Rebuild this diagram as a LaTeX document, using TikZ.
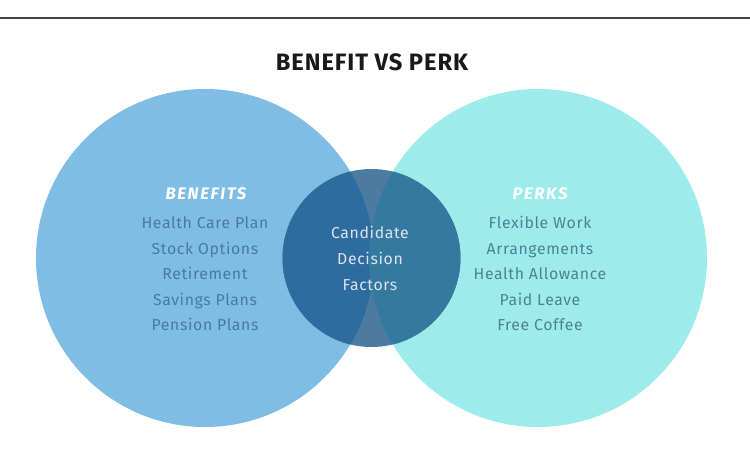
\documentclass[tikz,border=0pt]{standalone}
\usepackage{fontspec}
\setmainfont{Fira Sans}
\newfontfamily\itemfont[LetterSpace=4]{Fira Sans}
\newfontfamily\headfont[LetterSpace=10]{Fira Sans}
\newfontfamily\titlefont[LetterSpace=4]{Fira Sans}
\definecolor{benefitfill}{HTML}{80BDE4}
\definecolor{perkfill}{HTML}{9DECEB}
\definecolor{coreleft}{HTML}{2E6B9E}
\definecolor{coreright}{HTML}{347A9F}
\definecolor{corelens}{HTML}{4C7BA2}
\definecolor{benefittext}{HTML}{4A79A8}
\definecolor{perktext}{HTML}{4D8296}
\definecolor{coretext}{HTML}{DCE3F2}
\tikzset{
  itemtext/.style={font=\itemfont\fontsize{9}{10}\selectfont, inner sep=0pt, anchor=base},
  headtext/.style={font=\headfont\bfseries\itshape\fontsize{9.5}{10}\selectfont, text=white, inner sep=0pt, anchor=base},
}
\begin{document}
\begin{tikzpicture}[x=0.02cm, y=-0.02cm]
\useasboundingbox (0,0) rectangle (750,454);
\draw[line width=1pt, black!75] (0,18) -- (750,18);
\node[font=\titlefont\bfseries\fontsize{13.5}{14}\selectfont, text=black!90, inner sep=0pt, anchor=base] (title) at (372,70) {BENEFIT VS PERK};
% circles
\fill[benefitfill] (205,258) circle (169);
\fill[perkfill] (538,258) circle (169);
\fill[corelens] (371.5,258) circle (89);
\begin{scope}
\clip (205,258) circle (169);
\fill[coreleft] (371.5,258) circle (89);
\end{scope}
\begin{scope}
\clip (538,258) circle (169);
\fill[coreright] (371.5,258) circle (89);
\end{scope}
% benefits
\node[headtext] (benhead) at (206,199.5) {BENEFITS};
\node[itemtext, text=benefittext] (ben0) at (205,228.5) {Health Care Plan};
\node[itemtext, text=benefittext] (ben1) at (205,254.5) {Stock Options};
\node[itemtext, text=benefittext] (ben2) at (205,279.5) {Retirement};
\node[itemtext, text=benefittext] (ben3) at (205,305.5) {Savings Plans};
\node[itemtext, text=benefittext] (ben4) at (205,330.5) {Pension Plans};
% perks
\node[headtext] (perkhead) at (540,199.5) {PERKS};
\node[itemtext, text=perktext] (perk0) at (540,228.5) {Flexible Work};
\node[itemtext, text=perktext] (perk1) at (540,254.5) {Arrangements};
\node[itemtext, text=perktext] (perk2) at (540,279.5) {Health Allowance};
\node[itemtext, text=perktext] (perk3) at (540,305.5) {Paid Leave};
\node[itemtext, text=perktext] (perk4) at (540,330.5) {Free Coffee};
% core
\node[itemtext, text=coretext] (core0) at (370,238.5) {Candidate};
\node[itemtext, text=coretext] (core1) at (370,264.5) {Decision};
\node[itemtext, text=coretext] (core2) at (370,290.5) {Factors};
\end{tikzpicture}
\end{document}
